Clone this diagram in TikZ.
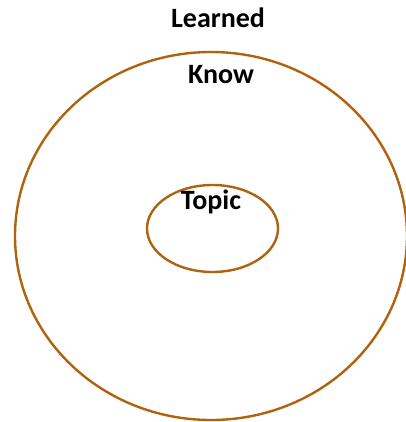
\documentclass[tikz,border=0pt]{standalone}
\usepackage{fontspec}
\setmainfont{Carlito}
\usetikzlibrary{shapes.geometric}
\definecolor{ringbrown}{RGB}{176,98,14}
\begin{document}
\begin{tikzpicture}[x=1pt,y=-1pt,
  ring/.style={ellipse, draw=ringbrown, line width=2.4pt, inner sep=0pt},
  lbl/.style={anchor=base, font=\fontsize{28}{30}\selectfont\bfseries, inner sep=0pt}]
\useasboundingbox (0,0) rectangle (405,422);
\node[ring, minimum width=392pt, minimum height=368pt] (outer) at (211,236) {};
\node[ring, minimum width=131pt, minimum height=87pt] (inner) at (212.5,228.5) {};
\node[lbl] (learned) at (218,28) {Learned};
\node[lbl] (know) at (221,84) {Know};
\node[lbl] (topic) at (211,209) {Topic};
\end{tikzpicture}
\end{document}
